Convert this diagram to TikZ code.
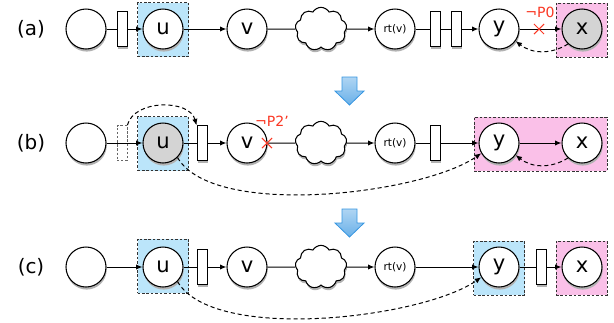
\documentclass[tikz,border=0pt]{standalone}
\usepackage{fontspec}
\setmainfont{DejaVu Sans}
\usetikzlibrary{positioning,arrows.meta,shapes.symbols,shapes.misc,shadows}
\definecolor{caixaazulcor}{RGB}{187,229,250}
\definecolor{caixarosacor}{RGB}{250,192,232}
\definecolor{setaazulcor}{RGB}{55,150,225}
\definecolor{marcacor}{RGB}{250,55,35}
\begin{document}
\begin{tikzpicture}[x=0.03cm,y=-0.03cm,
  sombra/.style={general shadow={shadow xshift=0.6pt,shadow yshift=-2.2pt,fill=black!30,draw=none}},
  estado/.style={circle,draw,line width=0.9pt,fill=white,minimum size=1.2cm,inner sep=0pt,font=\fontsize{18}{18}\selectfont,sombra},
  estadocinza/.style={estado,fill=black!17},
  rt/.style={estado,font=\fontsize{9}{9}\selectfont},
  barra/.style={rectangle,draw,line width=0.8pt,fill=white,minimum width=0.3cm,minimum height=1.03cm,inner sep=0pt,sombra},
  barrapont/.style={rectangle,draw=black!60,dash pattern=on 2pt off 1.5pt,line width=0.6pt,minimum width=0.3cm,minimum height=1.05cm,inner sep=0pt},
  nuvem/.style={cloud,cloud puffs=9,cloud puff arc=120,aspect=1.35,draw,line width=0.9pt,fill=white,minimum width=1.55cm,minimum height=1.3cm,inner sep=0pt,sombra},
  caixa/.style={rectangle,draw=black!80,dash pattern=on 2.2pt off 1.6pt,line width=0.6pt,minimum width=1.53cm,minimum height=1.62cm,inner sep=0pt},
  caixaazul/.style={caixa,fill=caixaazulcor},
  caixarosa/.style={caixa,fill=caixarosacor},
  linha/.style={line width=0.85pt},
  seta/.style={-{Latex[length=5.5pt,width=4.5pt]},line width=0.85pt},
  tracejada/.style={seta,dash pattern=on 3.5pt off 2.5pt},
  corte/.style={cross out,draw=marcacor,line width=0.9pt,minimum size=0.27cm,inner sep=0pt},
  marca/.style={text=marcacor,font=\fontsize{12}{12}\selectfont,inner sep=0pt},
  rotulo/.style={font=\fontsize{17}{17}\selectfont},
  setaazul/.style={draw=setaazulcor,line width=0.7pt,top color=setaazulcor!40!white,bottom color=setaazulcor!75!white,line join=miter}]
\useasboundingbox (0,0) rectangle (614,322);
% setas entre as linhas
\foreach \ty in {77,209}{
  \draw[setaazul,shift={(0,\ty)}] (342,0) -- (357,0) -- (357,14) -- (364,14) -- (349.5,28) -- (335,14) -- (342,14) -- cycle;
}
% linha (a)
\node[caixaazul] (bxua) at (163,29.5) {};
\node[caixarosa] (bxxa) at (581.5,30) {};
\node[rotulo] (la) at (31,29) {(a)};
\node[estado] (sa) at (86,29) {};
\node[barra] (ga1) at (122,29) {};
\node[estado] (ua) at (163,29) {u};
\node[estado] (va) at (247,29) {v};
\node[nuvem] (cla) at (321,29) {};
\node[rt] (rta) at (395,29) {rt(v)};
\node[barra] (ga2) at (435,29) {};
\node[barra] (ga3) at (456,29) {};
\node[estado] (ya) at (499,29) {y};
\node[estadocinza] (xa) at (582,29) {x};
\draw[linha] (sa) -- (ga1);
\draw[seta] (ga1) -- (ua);
\draw[seta] (ua) -- (va);
\draw[linha] (va) -- (cla);
\draw[seta] (cla) -- (rta);
\draw[linha] (rta) -- (ga2);
\draw[linha] (ga2) -- (ga3);
\draw[seta] (ga3) -- (ya);
\draw[seta] (ya) -- (xa);
\draw[tracejada] (xa.-133) to[bend left=35] (ya.-36);
\node[corte] (cta) at (539,29) {};
\node[marca] (pa) at (540,12) {¬P0};
% linha (b)
\node[caixaazul] (bxub) at (163,143.5) {};
\node[caixarosa,minimum width=3.99cm] (bxxb) at (540.5,144) {};
\node[rotulo] (lb) at (31,143) {(b)};
\node[estado] (sb) at (86,143) {};
\node[barrapont] (gb0) at (122,143) {};
\node[estadocinza] (ub) at (163,143) {u};
\node[barra] (gb1) at (202,143) {};
\node[estado] (vb) at (247,143) {v};
\node[nuvem] (clb) at (321,143) {};
\node[rt] (rtb) at (395,143) {rt(v)};
\node[barra] (gb2) at (435,143) {};
\node[estado] (yb) at (499,143) {y};
\node[estado] (xb) at (582,143) {x};
\draw[seta] (sb) -- (ub);
\draw[tracejada] (gb0.north east) to[out=75,in=105] (gb1.north west);
\draw[linha] (ub) -- (gb1);
\draw[seta] (gb1) -- (vb);
\draw[linha] (vb) -- (clb);
\draw[seta] (clb) -- (rtb);
\draw[linha] (rtb) -- (gb2);
\draw[seta] (gb2) -- (yb);
\draw[seta] (yb) -- (xb);
\draw[tracejada] (xb.-133) to[bend left=35] (yb.-36);
\draw[tracejada] (ub.-45) to[out=-60,in=-145,looseness=0.6] (yb.-150);
\node[corte] (ctb) at (267,143) {};
\node[marca] (pb) at (272,121) {¬P2'};
% linha (c)
\node[caixaazul] (bxuc) at (163,266) {};
\node[caixaazul] (bxyc) at (499,268) {};
\node[caixarosa] (bxxc) at (581.5,268) {};
\node[rotulo] (lc) at (31,267) {(c)};
\node[estado] (sc) at (86,267) {};
\node[estado] (uc) at (163,267) {u};
\node[barra] (gc1) at (202,267) {};
\node[estado] (vc) at (247,267) {v};
\node[nuvem] (clc) at (321,267) {};
\node[rt] (rtc) at (395,267) {rt(v)};
\node[estado] (yc) at (499,267) {y};
\node[barra] (gc2) at (541,267) {};
\node[estado] (xc) at (582,267) {x};
\draw[seta] (sc) -- (uc);
\draw[linha] (uc) -- (gc1);
\draw[seta] (gc1) -- (vc);
\draw[linha] (vc) -- (clc);
\draw[seta] (clc) -- (rtc);
\draw[seta] (rtc) -- (yc);
\draw[linha] (yc) -- (gc2);
\draw[seta] (gc2) -- (xc);
\draw[tracejada] (uc.-45) to[out=-60,in=-145,looseness=0.6] (yc.-150);
\end{tikzpicture}
\end{document}
